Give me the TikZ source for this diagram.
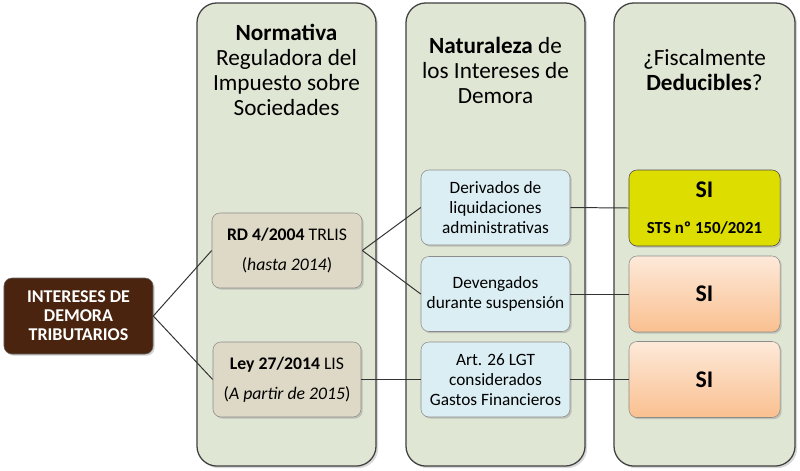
\documentclass[tikz,border=0pt]{standalone}
\usepackage{fontspec}
\setmainfont{Carlito}
\usepackage{tikz}
\usetikzlibrary{shadows}
\definecolor{colFondo}{RGB}{224,230,212}
\definecolor{marronID}{RGB}{74,36,14}
\definecolor{tanNorma}{RGB}{222,217,198}
\definecolor{azulNat}{RGB}{219,238,243}
\definecolor{amarilloSI}{RGB}{221,221,0}
\definecolor{naranjaA}{RGB}{253,233,217}
\definecolor{naranjaB}{RGB}{250,192,144}

\begin{document}
\begin{tikzpicture}[
    x=0.025cm, y=-0.025cm,
    col/.style={draw=black!75,line width=0.9pt,fill=colFondo,rounded corners=0.5cm,
                minimum width=4.475cm,minimum height=11.575cm,
                drop shadow={opacity=0.3,shadow xshift=1.5pt,shadow yshift=-1.5pt}},
    head/.style={align=center,font=\fontsize{16.5}{17.8}\selectfont},
    caja/.style={draw=black!45,rounded corners=0.2cm,align=center,
                 minimum width=3.725cm,minimum height=1.875cm,inner sep=1pt,
                 font=\fontsize{12.3}{14.2}\selectfont,
                 drop shadow={opacity=0.35,shadow xshift=1.2pt,shadow yshift=-1.2pt}},
    norma/.style={caja,fill=tanNorma,minimum width=3.75cm,font=\fontsize{12.6}{14.5}\selectfont},
    nat/.style={caja,fill=azulNat},
    si/.style={caja,minimum width=3.775cm,minimum height=1.9cm,
               font=\fontsize{17}{19}\selectfont\bfseries},
    enlace/.style={draw=black!80,line width=0.7pt},
  ]
    \useasboundingbox (0,0) rectangle (800,470);

    \node[col] (c1) at (286.5,234.5) {};
    \node[col] (c2) at (495.5,234.5) {};
    \node[col,minimum width=4.525cm] (c3) at (704.5,234.5) {};

    \node[head] (h1) at (286.5,70)
      {\textbf{Normativa}\\Reguladora del\\Impuesto sobre\\Sociedades};
    \node[head] (h2) at (495.5,70)
      {\textbf{Naturaleza} de\\los Intereses de\\Demora};
    \node[head] (h3) at (704.5,70) {¿Fiscalmente\\\textbf{Deducibles}?};

    \node[caja,fill=marronID,draw=black!60,text=white,font=\fontsize{12.8}{13.6}\selectfont\bfseries,
          minimum height=1.9cm] (idt) at (78.5,316) {INTERESES DE\\DEMORA\\TRIBUTARIOS};

    \node[norma] (rd)  at (287,250.5) {\textbf{RD 4/2004} TRLIS\\[7pt](\textit{hasta 2014})};
    \node[norma,minimum width=3.7cm] (ley) at (287,379.5)
      {\textbf{Ley 27/2014} LIS\\[7pt](\textit{A partir de 2015})};

    \node[nat] (der) at (495.5,207.5) {Derivados de\\liquidaciones\\administrativas};
    \node[nat] (dev) at (495.5,294)   {Devengados\\durante suspensión};
    \node[nat] (art) at (495.5,379.5) {Art. 26 LGT\\considerados\\Gastos Financieros};

    \node[si,fill=amarilloSI,draw=black!70] (si1) at (704.5,208)
      {SI\\[6pt]{\fontsize{12}{14}\selectfont STS nº 150/2021}};
    \node[si,top color=naranjaA,bottom color=naranjaB] (si2) at (704.5,294) {SI};
    \node[si,top color=naranjaA,bottom color=naranjaB] (si3) at (704.5,379.5) {SI};

    \draw[enlace] (idt.east) -- (rd.west);
    \draw[enlace] (idt.east) -- (ley.west);
    \draw[enlace] (rd.east) -- (der.west);
    \draw[enlace] (rd.east) -- (dev.west);
    \draw[enlace] (ley.east) -- (art.west);
    \foreach \a/\b in {der/si1,dev/si2,art/si3}
      \draw[enlace] (\a.east) -- (\b.west);

  \end{tikzpicture}
\end{document}
